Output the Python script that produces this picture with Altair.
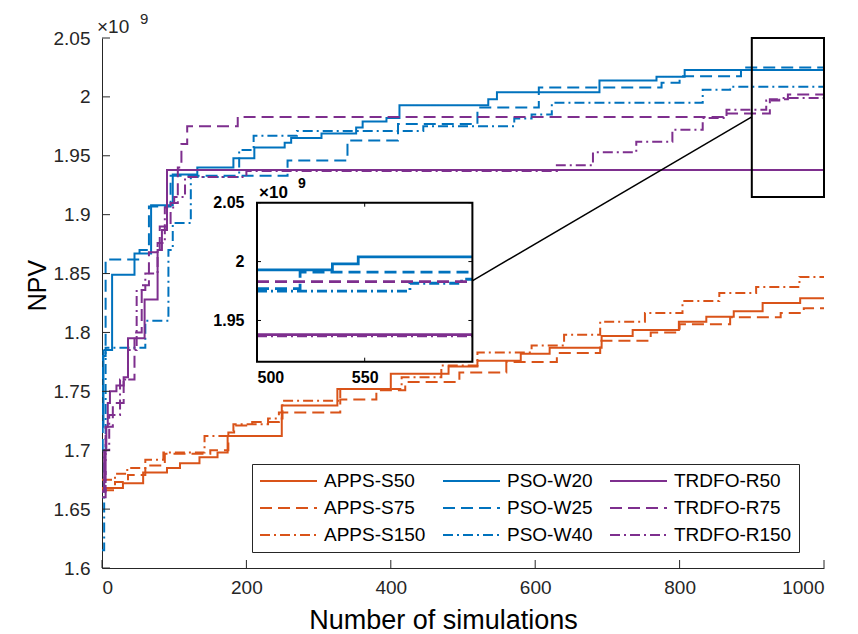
import altair as alt
import pandas as pd

# ---------------- data (NPV in units of 1e9) ----------------
APPS_S50_X = [0, 29, 57, 90, 108, 135, 160, 174, 249, 326, 400, 480, 520, 580, 620, 692, 735, 799, 837, 875, 915, 967, 1000]
APPS_S50_Y = [1.668, 1.672, 1.681, 1.685, 1.689, 1.694, 1.698, 1.712, 1.738, 1.752, 1.765, 1.771, 1.776, 1.782, 1.787, 1.797, 1.802, 1.809, 1.8134, 1.818, 1.825, 1.829, 1.829]

APPS_S75_X = [0, 18, 36, 60, 87, 150, 175, 183, 208, 245, 330, 380, 420, 495, 560, 630, 690, 760, 800, 870, 940, 972, 1000]
APPS_S75_Y = [1.666, 1.673, 1.679, 1.687, 1.697, 1.700, 1.715, 1.721, 1.724, 1.732, 1.743, 1.751, 1.758, 1.766, 1.775, 1.7825, 1.793, 1.800, 1.807, 1.813, 1.8165, 1.8205, 1.8205]

APPS_S150_X = [0, 18, 35, 60, 85, 142, 182, 230, 250, 330, 415, 470, 520, 595, 640, 690, 752, 804, 855, 906, 966, 1000]
APPS_S150_Y = [1.675, 1.680, 1.685, 1.692, 1.698, 1.712, 1.722, 1.727, 1.742, 1.752, 1.762, 1.772, 1.783, 1.789, 1.798, 1.809, 1.8165, 1.8267, 1.8335, 1.8386, 1.847, 1.847]

PSO_W20_X = [0, 2, 14, 45, 68, 98, 132, 182, 211, 253, 262, 304, 352, 361, 394, 412, 535, 547, 689, 768, 807, 1000]
PSO_W20_Y = [1.72, 1.785, 1.849, 1.867, 1.908, 1.934, 1.940, 1.948, 1.957, 1.961, 1.965, 1.969, 1.974, 1.979, 1.982, 1.993, 1.998, 2.004, 2.014, 2.017, 2.0228, 2.0228]

PSO_W25_X = [0, 1, 5, 52, 65, 95, 257, 340, 410, 520, 605, 775, 800, 885, 1000]
PSO_W25_Y = [1.70, 1.78, 1.862, 1.87, 1.907, 1.933, 1.946, 1.963, 1.977, 1.991, 2.008, 2.012, 2.0175, 2.025, 2.025]

PSO_W40_X = [0, 3, 5, 60, 92, 98, 123, 190, 210, 270, 445, 571, 595, 623, 832, 870, 1000]
PSO_W40_Y = [1.615, 1.70, 1.787, 1.81, 1.87, 1.893, 1.932, 1.955, 1.967, 1.971, 1.975, 1.9816, 1.985, 1.995, 2.006, 2.0087, 2.0087]

TRDFO_R50_X = [0, 3, 6, 8, 11, 20, 30, 36, 59, 77, 83, 90, 1000]
TRDFO_R50_Y = [1.665, 1.70, 1.72, 1.74, 1.75, 1.755, 1.762, 1.795, 1.828, 1.87, 1.887, 1.938, 1.938]

TRDFO_R75_X = [0, 5, 15, 30, 45, 55, 65, 80, 95, 105, 110, 118, 188, 860, 925, 950, 1000]
TRDFO_R75_Y = [1.66, 1.72, 1.74, 1.76, 1.80, 1.84, 1.868, 1.89, 1.91, 1.94, 1.96, 1.975, 1.983, 1.986, 1.998, 2.002, 2.002]

TRDFO_R150_X = [0, 5, 10, 25, 36, 48, 60, 77, 87, 100, 115, 200, 630, 680, 740, 790, 832, 865, 920, 938, 1000]
TRDFO_R150_Y = [1.665, 1.70, 1.73, 1.76, 1.785, 1.836, 1.85, 1.876, 1.906, 1.915, 1.932, 1.937, 1.942, 1.953, 1.962, 1.972, 1.982, 1.989, 1.997, 1.999, 1.999]

# legend order (legend fills column by column, 3 columns)
SERIES_ORDER = ["APPS-S50", "APPS-S75", "APPS-S150",
                "PSO-W20", "PSO-W25", "PSO-W40",
                "TRDFO-R50", "TRDFO-R75", "TRDFO-R150"]
SERIES_COLORS = ["#D95319"] * 3 + ["#0072BD"] * 3 + ["#7E2F8E"] * 3
SERIES_DASHES = [[1, 0], [12, 6], [10, 4, 2, 4]] * 3

X_TICKS = [0, 200, 400, 600, 800, 1000]
Y_TICKS = [1.6, 1.65, 1.7, 1.75, 1.8, 1.85, 1.9, 1.95, 2.0, 2.05]
X_DOMAIN = [0, 1000]
Y_DOMAIN = [1.6, 2.05]

# zoom window and inset
ZOOM_X = [900, 1000]
ZOOM_Y = [1.915, 2.05]
INSET_XLIM = [500, 600]
INSET_YLIM = [1.915, 2.05]
INSET_X_TICKS = [500, 550, 600]
INSET_X_LABELS = [500, 550]
INSET_Y_TICKS = [1.95, 2.0, 2.05]
CONNECTOR_X = [513.4, 900]
CONNECTOR_Y = [1.844, 1.983]

# ---------------- layout (pixels, plot-area coordinates) ----------------
W, H = 722, 530
IN_LEFT, IN_RIGHT, IN_TOP, IN_BOTTOM = 155, 370.4, 164.7, 323.7
FONT = "Liberation Sans"
AXC = "#262626"

series_data = {
    "APPS-S50": (APPS_S50_X, APPS_S50_Y),
    "APPS-S75": (APPS_S75_X, APPS_S75_Y),
    "APPS-S150": (APPS_S150_X, APPS_S150_Y),
    "PSO-W20": (PSO_W20_X, PSO_W20_Y),
    "PSO-W25": (PSO_W25_X, PSO_W25_Y),
    "PSO-W40": (PSO_W40_X, PSO_W40_Y),
    "TRDFO-R50": (TRDFO_R50_X, TRDFO_R50_Y),
    "TRDFO-R75": (TRDFO_R75_X, TRDFO_R75_Y),
    "TRDFO-R150": (TRDFO_R150_X, TRDFO_R150_Y),
}

rows = []
inset_rows = []
for name, (xs, ys) in series_data.items():
    for x, y in zip(xs, ys):
        rows.append({"series": name, "x": x, "y": y})
    v0 = [y for x, y in zip(xs, ys) if x <= INSET_XLIM[0]][-1]
    pts = [(INSET_XLIM[0], v0)] + [(x, y) for x, y in zip(xs, ys) if INSET_XLIM[0] < x < INSET_XLIM[1]]
    pts.append((INSET_XLIM[1], pts[-1][1]))
    if max(p[1] for p in pts) < INSET_YLIM[0]:
        continue
    for x, y in pts:
        inset_rows.append({"series": name, "x": x, "y": y})

df = pd.DataFrame(rows)
df_in = pd.DataFrame(inset_rows)

LEGEND = alt.Legend(
    orient="none", legendX=150, legendY=426, columns=3, title=None,
    symbolType="stroke", symbolSize=3249, symbolStrokeWidth=2, clipHeight=20,
    labelFont=FONT, labelFontSize=19, labelColor="black", labelOffset=6, labelLimit=300,
    columnPadding=16, rowPadding=7, padding=7,
    strokeColor=AXC, fillColor="white",
)
COLOR = alt.Color("series:N", scale=alt.Scale(domain=SERIES_ORDER, range=SERIES_COLORS), legend=LEGEND)
DASH = alt.StrokeDash("series:N", scale=alt.Scale(domain=SERIES_ORDER, range=SERIES_DASHES), legend=LEGEND)

X_MAIN = alt.X("x:Q", scale=alt.Scale(domain=X_DOMAIN, nice=False, zero=False),
               axis=alt.Axis(values=X_TICKS, format="d", ticks=False, grid=False, domainColor=AXC, domainWidth=1,
                             labelFont=FONT, labelFontSize=19, labelColor=AXC, labelPadding=10,
                             title="Number of simulations", titleFont=FONT, titleFontSize=27,
                             titleFontWeight="normal", titleColor="black", titleX=341, titleY=60,
                             titleBaseline="alphabetic", titleAlign="center"))
Y_MAIN = alt.Y("y:Q", scale=alt.Scale(domain=Y_DOMAIN, nice=False, zero=False),
               axis=alt.Axis(values=Y_TICKS, format=".3~g", ticks=False, grid=False, domainColor=AXC,
                             domainWidth=1, labelFont=FONT, labelFontSize=19, labelColor=AXC,
                             labelPadding=12, title="NPV", titleFont=FONT, titleFontSize=25,
                             titleFontWeight="normal", titleColor="black", titleX=-57, titleY=247,
                             titleBaseline="alphabetic", titleAlign="center", titleAngle=270))

X_IN = alt.X("x:Q", scale=alt.Scale(domain=INSET_XLIM, range=[IN_LEFT, IN_RIGHT], nice=False, zero=False),
             axis=alt.Axis(values=INSET_X_LABELS, format="d", orient="bottom", offset=-(H - IN_BOTTOM), ticks=False,
                           domain=False, grid=False, labelFont=FONT, labelFontSize=16, labelFontWeight="bold",
                           labelColor="black", labelPadding=8, title=None, zindex=1))
Y_IN = alt.Y("y:Q", scale=alt.Scale(domain=INSET_YLIM, range=[IN_BOTTOM, IN_TOP], nice=False, zero=False),
             axis=alt.Axis(values=INSET_Y_TICKS, format=".3~g", orient="left", offset=-IN_LEFT, ticks=False,
                           domain=False, grid=False, labelFont=FONT, labelFontSize=16, labelFontWeight="bold",
                           labelColor="black", labelPadding=13, title=None, zindex=1))

# ---------------- main panel ----------------
main_lines = alt.Chart(df).mark_line(interpolate="step-after", strokeWidth=2, clip=True).encode(
    x=X_MAIN, y=Y_MAIN, color=COLOR, strokeDash=DASH)

zoom_df = pd.DataFrame({"x": [ZOOM_X[0]], "x2": [ZOOM_X[1]], "y": [ZOOM_Y[0]], "y2": [ZOOM_Y[1]]})
zoom_box = alt.Chart(zoom_df).mark_rect(fillOpacity=0, stroke="black", strokeWidth=2).encode(
    x=X_MAIN, x2="x2:Q", y=Y_MAIN, y2="y2:Q")

conn_df = pd.DataFrame({"x": CONNECTOR_X, "y": CONNECTOR_Y})
connector = alt.Chart(conn_df).mark_line(color="black", strokeWidth=1.5).encode(x=X_MAIN, y=Y_MAIN)

xt_df = pd.DataFrame({"x": X_TICKS})
x_ticks = alt.Chart(xt_df).mark_rule(color=AXC, strokeWidth=1).encode(
    x=X_MAIN, y=alt.value(H), y2=alt.value(H - 8))
yt_df = pd.DataFrame({"y": Y_TICKS})
y_ticks = alt.Chart(yt_df).mark_rule(color=AXC, strokeWidth=1).encode(
    y=Y_MAIN, x=alt.value(0), x2=alt.value(8))

one = pd.DataFrame({"t": ["×10"]})
nine = pd.DataFrame({"t": ["9"]})
exp_main = alt.Chart(one).mark_text(align="left", baseline="middle", font=FONT, fontSize=19, color=AXC).encode(
    x=alt.value(-5), y=alt.value(-11), text="t:N")
exp_main9 = alt.Chart(nine).mark_text(align="left", baseline="middle", font=FONT, fontSize=15, color=AXC).encode(
    x=alt.value(38), y=alt.value(-19), text="t:N")
exp_in = alt.Chart(one).mark_text(align="left", baseline="middle", font=FONT, fontSize=17, fontWeight="bold",
                                  color="black").encode(x=alt.value(157), y=alt.value(155), text="t:N")
exp_in9 = alt.Chart(nine).mark_text(align="left", baseline="middle", font=FONT, fontSize=14, fontWeight="bold",
                                    color="black").encode(x=alt.value(196), y=alt.value(146), text="t:N")

main = alt.layer(main_lines, zoom_box, connector, x_ticks, y_ticks, exp_main, exp_main9, exp_in, exp_in9)

# ---------------- inset panel ----------------
frame_df = pd.DataFrame({"k": [0]})
inset_bg = alt.Chart(frame_df).mark_rect(fill="white", stroke=None).encode(
    x=alt.value(IN_LEFT), x2=alt.value(IN_RIGHT), y=alt.value(IN_TOP), y2=alt.value(IN_BOTTOM))
inset_lines = alt.Chart(df_in).mark_line(interpolate="step-after", strokeWidth=2.8, clip=True).encode(
    x=X_IN, y=Y_IN, color=COLOR, strokeDash=DASH)
inset_frame = alt.Chart(frame_df).mark_rect(fillOpacity=0, stroke="black", strokeWidth=2).encode(
    x=alt.value(IN_LEFT), x2=alt.value(IN_RIGHT), y=alt.value(IN_TOP), y2=alt.value(IN_BOTTOM))
ixt_df = pd.DataFrame({"x": INSET_X_TICKS})
in_xt_b = alt.Chart(ixt_df).mark_rule(color="black", strokeWidth=1).encode(
    x=X_IN, y=alt.value(IN_BOTTOM), y2=alt.value(IN_BOTTOM - 4))
in_xt_t = alt.Chart(ixt_df).mark_rule(color="black", strokeWidth=1).encode(
    x=X_IN, y=alt.value(IN_TOP), y2=alt.value(IN_TOP + 4))
iyt_df = pd.DataFrame({"y": INSET_Y_TICKS})
in_yt_l = alt.Chart(iyt_df).mark_rule(color="black", strokeWidth=1).encode(
    y=Y_IN, x=alt.value(IN_LEFT), x2=alt.value(IN_LEFT + 4))
in_yt_r = alt.Chart(iyt_df).mark_rule(color="black", strokeWidth=1).encode(
    y=Y_IN, x=alt.value(IN_RIGHT), x2=alt.value(IN_RIGHT - 4))

inset = alt.layer(inset_bg, inset_lines, inset_frame, in_xt_b, in_xt_t, in_yt_l, in_yt_r)

chart = alt.layer(main, inset).resolve_scale(x="independent", y="independent").properties(
    width=W, height=H,
    padding={"left": 102, "top": 38, "right": 34, "bottom": 66},
    autosize=alt.AutoSizeParams(type="none"),
    background="white",
).configure_view(stroke=None)

chart.save("out.html", embed_options={"renderer": "svg", "actions": False})
